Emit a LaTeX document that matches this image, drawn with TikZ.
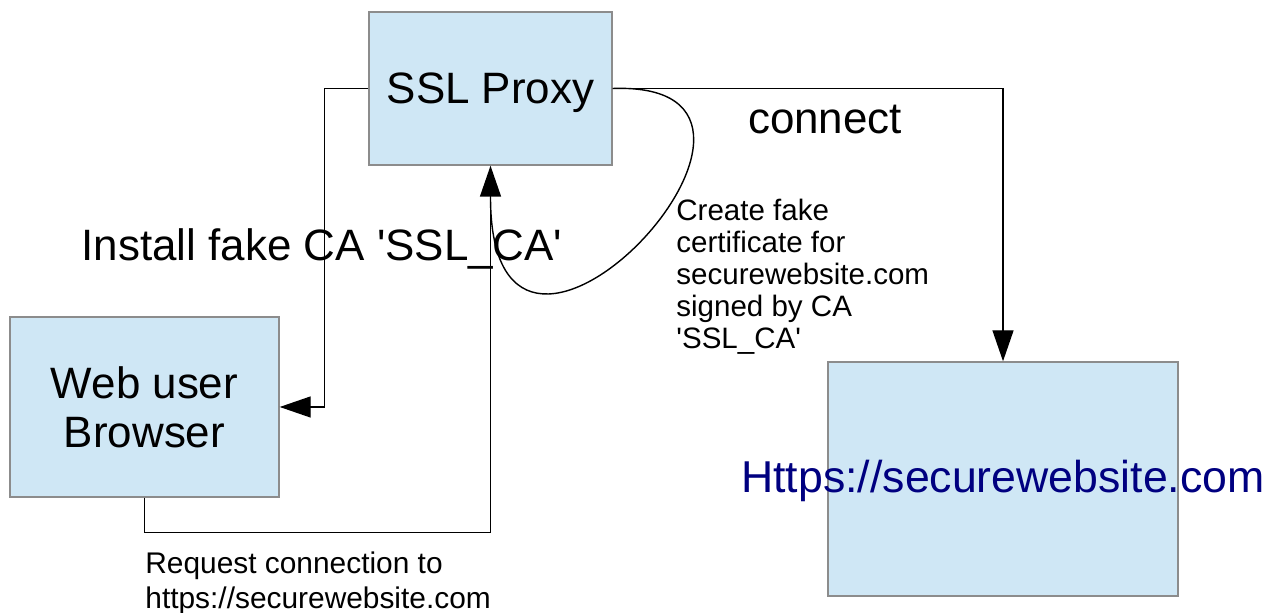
\documentclass[tikz,border=0pt]{standalone}
\usepackage{fontspec}
\setmainfont{Liberation Sans}
\usepackage{xcolor}
\usetikzlibrary{arrows.meta}
\definecolor{boxblue}{RGB}{207,231,245}
\definecolor{linknavy}{RGB}{0,0,128}
\newcommand{\sq}{\textquotesingle}

\begin{document}
\begin{tikzpicture}[
  >={Triangle[length=0.31cm, width=0.21cm]},
  every node/.style={font=\fontsize{12.5}{13.9}\selectfont},
  hostbox/.style={draw=black!45, fill=boxblue, inner sep=0pt, align=center},
  flowline/.style={thin, ->},
  smallnote/.style={font=\fontsize{8.4}{9.1}\selectfont, align=left, anchor=west},
]
\useasboundingbox (0,0) rectangle (12.65,6.13);

%%% Hosts %%%
\node[hostbox, minimum width=2.43cm, minimum height=1.53cm, text depth=0pt] (proxy) at (4.905,5.245) {SSL Proxy};
\node[hostbox, minimum width=2.69cm, minimum height=1.80cm] (browser) at (1.445,2.06) {Web user\\Browser};
\node[hostbox, minimum width=3.50cm, minimum height=2.34cm,
  label={[text=linknavy, font=\fontsize{12.7}{14}\selectfont, yshift=-0.02cm]center:Https://securewebsite.com}] (site) at (10.03,1.34) {};

%%% Connections %%%
% proxy pushes its CA to the browser
\draw[flowline] (proxy.west) -- ++(-0.44,0) |- (browser.east);
% browser asks for the secure site
\draw[flowline] (browser.south) -- ++(0,-0.35) -| (proxy.south);
% proxy opens the real connection
\draw[flowline] (proxy.east) -| (site.north);
% fake certificate loop, joins the request arrow
\coordinate (loopend) at ([yshift=-0.31cm]proxy.south);
\draw[thin] (proxy.east) .. controls (8.50,5.33) and (4.90,1.43) .. (loopend);

%%% Labels %%%
\node (installlbl) at (3.22,3.64) {Install fake CA \sq SSL\_CA\sq};
\node (connectlbl) at (8.25,4.93) {connect};
\node[smallnote] (certlbl) at (6.64,3.365) {Create fake\\certificate for\\securewebsite.com\\signed by CA\\\sq SSL\_CA\sq};
\node[smallnote, font=\fontsize{8.5}{9.9}\selectfont] (requestlbl) at (1.33,0.30) {Request connection to\\https://securewebsite.com};

\end{tikzpicture}
\end{document}
